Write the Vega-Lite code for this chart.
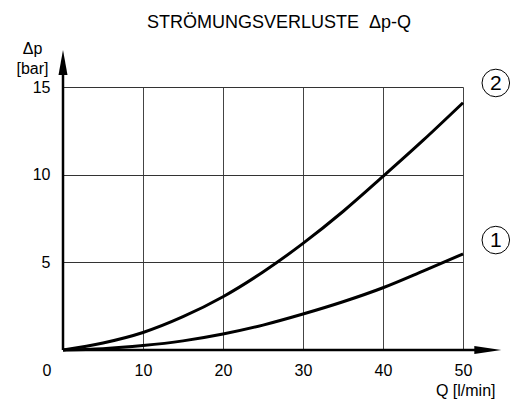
{
  "$schema": "https://vega.github.io/schema/vega-lite/v6.json",
  "width": 400,
  "height": 263,
  "autosize": {"type": "none"},
  "padding": {"left": 63, "top": 87, "right": 54, "bottom": 53},
  "background": "white",
  "config": {
    "view": {"stroke": null},
    "font": "Liberation Sans",
    "axis": {"labelFont": "Liberation Sans", "titleFont": "Liberation Sans", "labelColor": "#000", "titleColor": "#000", "titleFontWeight": "normal"}
  },
  "title": {
    "text": "STRÖMUNGSVERLUSTE\u00a0\u00a0Δp-Q",
    "font": "Liberation Sans",
    "fontSize": 18,
    "fontWeight": "normal",
    "color": "#000",
    "anchor": "middle",
    "dx": 16,
    "offset": 8
  },
  "datasets": {
    "curves": [
      {"Q": 0, "dp": 0, "kurve": "2"},
      {"Q": 5, "dp": 0.4, "kurve": "2"},
      {"Q": 10, "dp": 1.0, "kurve": "2"},
      {"Q": 15, "dp": 1.9, "kurve": "2"},
      {"Q": 20, "dp": 3.04, "kurve": "2"},
      {"Q": 25, "dp": 4.45, "kurve": "2"},
      {"Q": 30, "dp": 6.08, "kurve": "2"},
      {"Q": 35, "dp": 7.9, "kurve": "2"},
      {"Q": 40, "dp": 9.9, "kurve": "2"},
      {"Q": 45, "dp": 11.95, "kurve": "2"},
      {"Q": 50, "dp": 14.1, "kurve": "2"},
      {"Q": 0, "dp": 0, "kurve": "1"},
      {"Q": 5, "dp": 0.07, "kurve": "1"},
      {"Q": 10, "dp": 0.25, "kurve": "1"},
      {"Q": 15, "dp": 0.52, "kurve": "1"},
      {"Q": 20, "dp": 0.91, "kurve": "1"},
      {"Q": 25, "dp": 1.42, "kurve": "1"},
      {"Q": 30, "dp": 2.05, "kurve": "1"},
      {"Q": 35, "dp": 2.75, "kurve": "1"},
      {"Q": 40, "dp": 3.55, "kurve": "1"},
      {"Q": 45, "dp": 4.5, "kurve": "1"},
      {"Q": 50, "dp": 5.48, "kurve": "1"}
    ],
    "labels": [
      {"Q": 54.1, "dp": 15.23, "label": "2"},
      {"Q": 54.1, "dp": 6.27, "label": "1"}
    ]
  },
  "layer": [
    {
      "data": {"name": "curves"},
      "mark": {"type": "line", "color": "#000", "strokeWidth": 3, "interpolate": "monotone", "clip": false},
      "encoding": {
        "x": {
          "field": "Q", "type": "quantitative",
          "scale": {"domain": [0, 50], "nice": false},
          "axis": {
            "values": [0, 10, 20, 30, 40, 50],
            "domain": false, "ticks": false,
            "grid": true, "gridColor": "#444", "gridWidth": 1, "gridOpacity": 1,
            "labelFontSize": 16, "labelPadding": 12,
            "labelFlush": false,
            "labelOffset": {"condition": {"test": "datum.value === 0", "value": -16.5}, "value": 0},
            "title": "Q [l/min]", "titleFontSize": 16,
            "titleAnchor": null, "titleAlign": "right", "titleBaseline": "middle",
            "titleX": 432, "titleY": 40
          }
        },
        "y": {
          "field": "dp", "type": "quantitative",
          "scale": {"domain": [0, 15], "nice": false},
          "axis": {
            "values": [5, 10, 15],
            "domain": false, "ticks": false,
            "grid": true, "gridColor": "#333", "gridWidth": 1, "gridOpacity": 1,
            "labelFontSize": 16, "labelPadding": 13,
            "title": ["Δp", "[bar]"], "titleFontSize": 16, "titleAngle": 0,
            "titleAlign": "center", "titleBaseline": "alphabetic", "titleLineHeight": 20,
            "titleX": -31, "titleY": -34
          }
        },
        "detail": {"field": "kurve"}
      }
    },
    {
      "data": {"values": [{}]},
      "mark": {"type": "rule", "color": "#000", "strokeWidth": 2.5, "clip": false},
      "encoding": {"x": {"datum": 0}, "y": {"datum": 0}, "y2": {"datum": 16}}
    },
    {
      "data": {"values": [{}]},
      "mark": {"type": "rule", "color": "#000", "strokeWidth": 2.5, "clip": false},
      "encoding": {"x": {"datum": 0}, "x2": {"datum": 53}, "y": {"datum": 0}}
    },
    {
      "data": {"values": [{}]},
      "mark": {"type": "point", "shape": "M0,-1L0.36,1L-0.36,1Z", "filled": true, "color": "#000", "opacity": 1, "size": 625, "clip": false},
      "encoding": {"x": {"datum": 0}, "y": {"datum": 16.4}}
    },
    {
      "data": {"values": [{}]},
      "mark": {"type": "point", "shape": "M1,0L-1,0.3L-1,-0.3Z", "filled": true, "color": "#000", "opacity": 1, "size": 729, "clip": false},
      "encoding": {"x": {"datum": 53.1}, "y": {"datum": 0}}
    },
    {
      "data": {"name": "labels"},
      "mark": {"type": "point", "shape": "circle", "filled": false, "color": "#000", "strokeWidth": 1, "opacity": 1, "size": 760, "clip": false},
      "encoding": {"x": {"field": "Q", "type": "quantitative"}, "y": {"field": "dp", "type": "quantitative"}}
    },
    {
      "data": {"name": "labels"},
      "mark": {"type": "text", "font": "Liberation Sans", "fontSize": 21, "color": "#000", "align": "center", "baseline": "middle", "dy": 1, "clip": false},
      "encoding": {"x": {"field": "Q", "type": "quantitative"}, "y": {"field": "dp", "type": "quantitative"}, "text": {"field": "label"}}
    }
  ]
}
